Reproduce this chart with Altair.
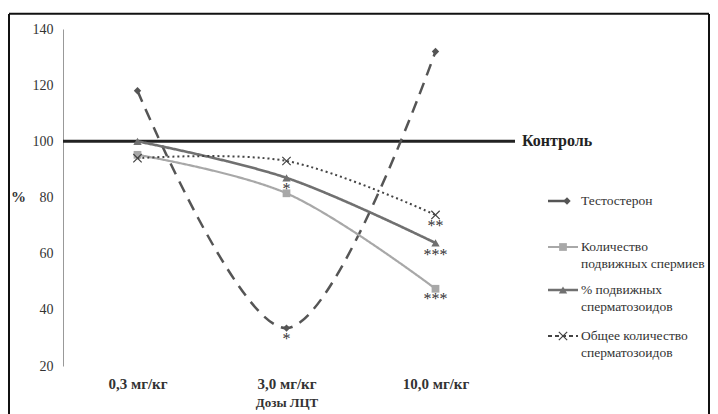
import altair as alt
import pandas as pd

doses = ["0,3 мг/кг", "3,0 мг/кг", "10,0 мг/кг"]
testosterone = [118, 33.5, 132]
motile_count = [95.2, 81.5, 47.5]
motile_pct = [100, 87, 63.8]
total_count = [94, 93, 73.8]
control = 100

ann_dose = ["3,0 мг/кг", "3,0 мг/кг", "10,0 мг/кг", "10,0 мг/кг", "10,0 мг/кг"]
ann_y = [83, 29.5, 70, 59.5, 44]
ann_text = ["*", "*", "**", "***", "***"]

FONT = "Liberation Serif"

series = [
    ("Тестостерон", testosterone, "#555555", [12, 8], 2.5, "diamond", True, 55),
    ("Количество подвижных спермиев", motile_count, "#a8a8a8", [1, 0], 2.2, "square", True, 60),
    ("% подвижных сперматозоидов", motile_pct, "#707070", [1, 0], 2.6, "triangle-up", True, 70),
    ("Общее количество сперматозоидов", total_count, "#444444", [2, 3], 2.0,
     "M-1,-1L1,1M1,-1L-1,1", False, 70),
]

xenc = alt.X("dose:N", sort=doses,
             scale=alt.Scale(type="point", padding=0.5, domain=doses),
             axis=alt.Axis(title="Дозы ЛЦТ", labelFont=FONT, labelFontWeight="bold",
                           labelFontSize=15, labelColor="#333", labelPadding=10,
                           titleFont=FONT, titleFontWeight="bold", titleFontSize=13,
                           titleColor="#333", titlePadding=5, ticks=False, domain=False,
                           grid=False, labelAngle=0))
yscale = alt.Scale(domain=[20, 140], nice=False, zero=False)
yenc = alt.Y("value:Q", scale=yscale,
             axis=alt.Axis(title="%", values=[20, 40, 60, 80, 100, 120, 140],
                           labelFont=FONT, labelFontSize=14, labelColor="#333",
                           labelPadding=10, ticks=False, domainColor="#999",
                           gridColor="#b5b5b5", gridWidth=1.2,
                           titleFont=FONT, titleFontSize=15, titleFontWeight="bold",
                           titleColor="#333", titleAngle=0, titleX=-45, titleY=175))

layers = []
for i, (name, vals, color, dash, width, shape, filled, size) in enumerate(series):
    df = pd.DataFrame({"dose": doses, "value": vals})
    base = alt.Chart(df)
    line = base.mark_line(color=color, strokeDash=dash, strokeWidth=width,
                          interpolate="catmull-rom").encode(x=xenc, y=yenc)
    if filled:
        pts = base.mark_point(shape=shape, filled=True, color=color, size=size,
                              opacity=1).encode(x=xenc, y=yenc)
    else:
        pts = base.mark_point(shape=shape, filled=False, color=color, size=size,
                              strokeWidth=1.2, opacity=1).encode(x=xenc, y=yenc)
    layers += [line, pts]

one = pd.DataFrame({"a": [0]})

control_rule = alt.Chart(one).mark_rule(color="#222", strokeWidth=3).encode(
    x=alt.value(0), x2=alt.value(452), y=alt.datum(control, scale=yscale))
control_text = alt.Chart(one).mark_text(text="Контроль", font=FONT, fontWeight="bold",
                                        fontSize=16, color="#222", align="left",
                                        baseline="middle").encode(
    x=alt.value(459), y=alt.datum(control, scale=yscale))

ann_df = pd.DataFrame({"dose": ann_dose, "value": ann_y, "text": ann_text})
ann = alt.Chart(ann_df).mark_text(font=FONT, fontSize=16, color="#333",
                                  baseline="middle").encode(
    x=alt.X("dose:N", sort=doses, scale=alt.Scale(type="point", padding=0.5, domain=doses)),
    y=alt.Y("value:Q", scale=yscale), text="text:N")

# frame around the whole figure
border = [
    alt.Chart(one).mark_rule(color="#111", strokeWidth=2).encode(
        x=alt.value(-54), x2=alt.value(646), y=alt.datum(145.4, scale=yscale)),
    alt.Chart(one).mark_rule(color="#111", strokeWidth=2).encode(
        x=alt.value(-54), y=alt.value(-15), y2=alt.value(400)),
    alt.Chart(one).mark_rule(color="#111", strokeWidth=2).encode(
        x=alt.value(646), y=alt.value(-15), y2=alt.value(400)),
]

# manual legend
leg_rows = [
    (172, ["Тестостерон"], 504),
    (218, ["Количество", "подвижных спермиев"], 500),
    (261, ["% подвижных", "сперматозоидов"], 500),
    (307, ["Общее количество", "сперматозоидов"], 500),
]
legend = []
for (y, lines, mx), (name, vals, color, dash, width, shape, filled, size) in zip(leg_rows, series):
    x2 = 505 if shape == "diamond" else 515
    ldash = [4, 3] if dash == [2, 3] else [1, 0]
    legend.append(alt.Chart(one).mark_rule(color=color, strokeWidth=width, strokeDash=ldash).encode(
        x=alt.value(485), x2=alt.value(x2), y=alt.value(y)))
    legend.append(alt.Chart(one).mark_point(shape=shape, filled=filled, color=color, size=size,
                                            opacity=1, strokeWidth=1.2).encode(
        x=alt.value(mx), y=alt.value(y)))
    for j, t in enumerate(lines):
        legend.append(alt.Chart(one).mark_text(text=t, font=FONT, fontSize=13.5, color="#333",
                                               align="left", baseline="middle").encode(
            x=alt.value(518), y=alt.value(y + j * 17)))

chart = alt.layer(control_rule, *border, *layers, control_text, ann, *legend).properties(
    width=447, height=337,
    autosize=alt.AutoSizeParams(type="none"),
    padding={"left": 55, "top": 21, "right": 200, "bottom": 48},
).configure(font=FONT, background="white").configure_view(stroke=None)

chart.save("out.html", embed_options={"renderer": "svg", "actions": False})
